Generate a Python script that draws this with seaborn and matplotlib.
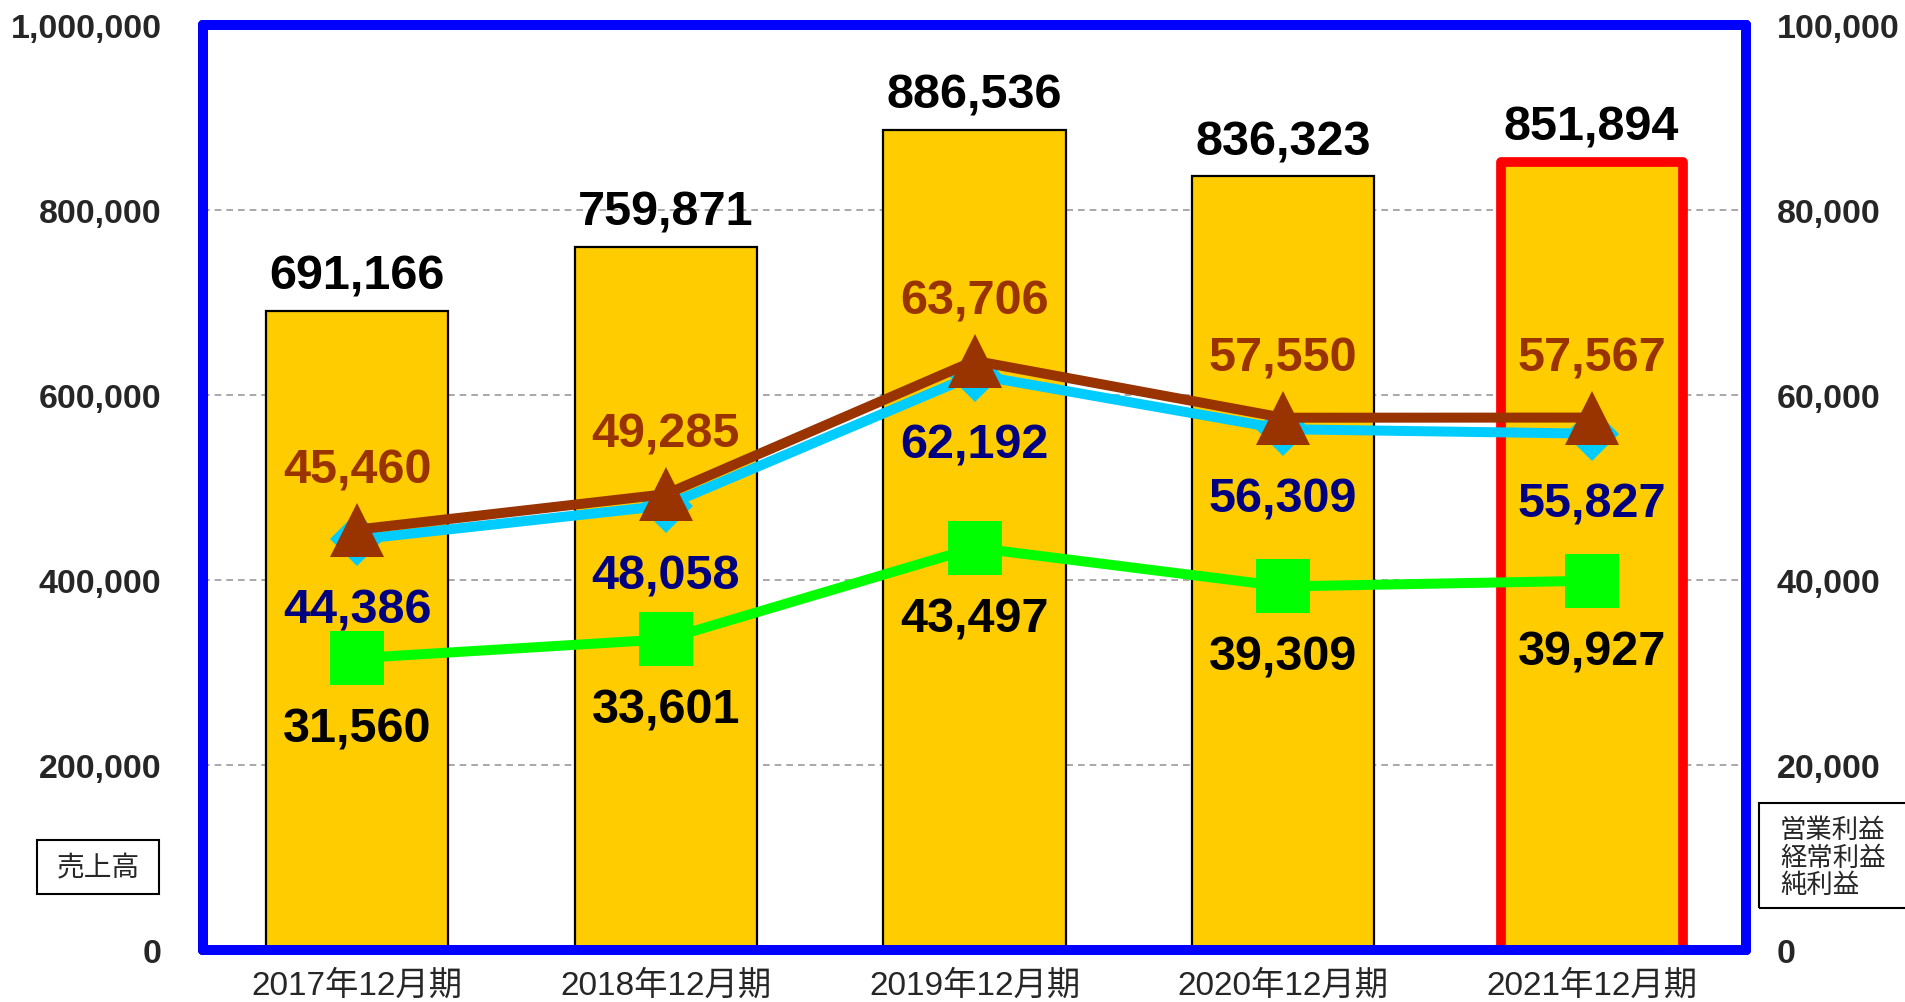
import numpy as np
import matplotlib
matplotlib.use("Agg")
import matplotlib.pyplot as plt
from matplotlib.patches import Rectangle
import seaborn as sns

# data (values in 百万円)
periods = ["2017年12月期", "2018年12月期", "2019年12月期", "2020年12月期", "2021年12月期"]
sales = [691166, 759871, 886536, 836323, 851894]
ordinary_profit = [45460, 49285, 63706, 57550, 57567]
operating_profit = [44386, 48058, 62192, 56309, 55827]
net_profit = [31560, 33601, 43497, 39309, 39927]

left_ticks = [0, 200000, 400000, 600000, 800000, 1000000]
right_ticks = [0, 20000, 40000, 60000, 80000, 100000]

sns.set_style("white")
plt.rcParams["font.family"] = ["Liberation Sans", "Noto Sans CJK JP", "DejaVu Sans"]

fig = plt.figure(figsize=(19.05, 10.03), dpi=100)
ax = fig.add_axes([0.1066, 0.0518, 0.8099, 0.9222])

# sales bars
sns.barplot(x=periods, y=sales, color="#FFCC00", saturation=1, width=0.59,
            edgecolor="black", linewidth=1.6, ax=ax, zorder=2)
last = ax.patches[-1]
last.set_edgecolor("#FF0000")
last.set_linewidth(7)
last.set_joinstyle("round")

ax.set_ylim(0, 1000000)
ax.set_xlim(-0.5, 4.5)
ax.set_yticks(left_ticks)
ax.set_yticklabels([f"{v:,}" for v in left_ticks], fontsize=24.5, fontweight="bold")
ax.tick_params(axis="y", length=0, pad=30)
ax.tick_params(axis="x", length=0, pad=14, labelsize=24)
ax.set_xlabel("")
ax.set_ylabel("")
ax.set_xticks([0.5, 1.5, 2.5, 3.5], minor=True)
ax.tick_params(axis="x", which="minor", direction="in", length=9, width=6, color="#0000FF")
ax.yaxis.grid(True, linestyle=(0, (4, 3)), color="#999999", linewidth=1.2)
ax.set_axisbelow(True)

for i, v in enumerate(sales):
    ax.annotate(f"{v:,}", (i, v), xytext=(0, 25), textcoords="offset points",
                ha="center", va="center", fontsize=35, fontweight="bold", color="black")

# profit lines on the right axis
ax2 = ax.twinx()
xs = np.arange(len(periods))
sns.lineplot(x=xs, y=net_profit, ax=ax2, color="#00FF00", lw=7.2, marker="s",
             markersize=39, markeredgewidth=0, zorder=3)
sns.lineplot(x=xs, y=operating_profit, ax=ax2, color="#00CCFF", lw=7.2, marker="D",
             markersize=28, markeredgewidth=0, zorder=4)
sns.lineplot(x=xs, y=ordinary_profit, ax=ax2, color="#993300", lw=7.2, marker="^",
             markersize=39, markeredgewidth=0, zorder=5)
ax2.set_ylim(0, 100000)
ax2.set_xlim(-0.5, 4.5)
ax2.set_yticks(right_ticks)
ax2.set_yticklabels([f"{v:,}" for v in right_ticks], fontsize=24.5, fontweight="bold")
ax2.tick_params(axis="y", length=0, pad=22)
ax2.set_ylabel("")

for i in xs:
    ax2.annotate(f"{ordinary_profit[i]:,}", (i, ordinary_profit[i]), xytext=(0, 43),
                 textcoords="offset points", ha="center", va="center",
                 fontsize=35, fontweight="bold", color="#993300")
    ax2.annotate(f"{operating_profit[i]:,}", (i, operating_profit[i]), xytext=(0, -50.5),
                 textcoords="offset points", ha="center", va="center",
                 fontsize=35, fontweight="bold", color="#000080")
    ax2.annotate(f"{net_profit[i]:,}", (i, net_profit[i]), xytext=(0, -51),
                 textcoords="offset points", ha="center", va="center",
                 fontsize=35, fontweight="bold", color="black")

for a in (ax, ax2):
    for sp in a.spines.values():
        sp.set_color("#0000FF")
        sp.set_linewidth(7.2)
        sp.set_capstyle("round")
        sp.set_joinstyle("round")

# axis caption boxes
fig.patches.append(Rectangle((37 / 1905, 1 - 895 / 1003), 122 / 1905, 54 / 1003,
                             transform=fig.transFigure, fill=False, edgecolor="black", lw=1.5))
fig.text(98 / 1905, 1 - 868 / 1003, "売上高", ha="center", va="center", fontsize=20,
         family=["Noto Sans CJK JP"])
fig.patches.append(Rectangle((1759 / 1905, 1 - 909 / 1003), 160 / 1905, 105 / 1003,
                             transform=fig.transFigure, fill=False, edgecolor="black", lw=1.5))
fig.text(1780 / 1905, 1 - 858 / 1003, "営業利益\n経常利益\n純利益", ha="left", va="center",
         fontsize=19, linespacing=1.03, family=["Noto Sans CJK JP"])

fig.savefig("out.png", dpi=100)
